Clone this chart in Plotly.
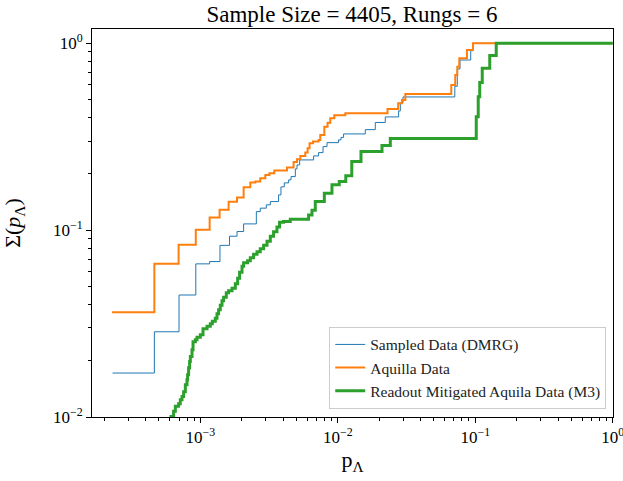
import plotly.graph_objects as go

# ---- data ----
dmrg_p = [2.30e-4, 4.63e-4, 7.00e-4, 9.27e-4, 1.169e-3, 1.390e-3, 1.631e-3, 1.849e-3,
          2.065e-3, 2.555e-3, 2.73e-3, 3.02e-3, 3.23e-3, 3.71e-3, 3.86e-3, 4.08e-3,
          4.39e-3, 4.57e-3, 4.91e-3, 5.05e-3, 5.28e-3, 6.67e-3, 7.25e-3, 7.81e-3,
          8.35e-3, 1.013e-2, 1.055e-2, 1.102e-2, 1.585e-2, 1.874e-2, 2.215e-2, 2.77e-2,
          2.85e-2, 2.98e-2, 7.10e-2, 7.40e-2, 7.74e-2, 9.27e-2, 9.62e-2, 1.0]
dmrg_sigma = [0.01719, 0.02858, 0.04497, 0.066, 0.0679, 0.0829, 0.0928, 0.0983,
              0.108, 0.1257, 0.1311, 0.1366, 0.1422, 0.1544, 0.1704, 0.179,
              0.1858, 0.1935, 0.2127, 0.2234, 0.2376, 0.2496, 0.26, 0.28,
              0.294, 0.3041, 0.3135, 0.3273, 0.345, 0.377, 0.4036, 0.4345,
              0.4795, 0.5163, 0.5888, 0.7288, 0.814, 0.913, 1.0, 1.0]

aquila_p = [2.28e-4, 4.63e-4, 6.95e-4, 9.27e-4, 1.169e-3, 1.381e-3, 1.606e-3, 1.849e-3,
            2.065e-3, 2.31e-3, 2.51e-3, 2.73e-3, 2.97e-3, 3.18e-3, 3.45e-3, 4.27e-3,
            4.77e-3, 5.05e-3, 5.34e-3, 5.80e-3, 6.03e-3, 6.23e-3, 6.60e-3, 7.25e-3,
            7.46e-3, 7.98e-3, 8.43e-3, 8.82e-3, 9.43e-3, 1.134e-2, 2.30e-2, 2.75e-2,
            2.93e-2, 3.10e-2, 6.69e-2, 7.15e-2, 7.40e-2, 7.65e-2, 8.70e-2, 9.62e-2, 1.0]
aquila_sigma = [0.0364, 0.066, 0.0835, 0.1004, 0.117, 0.1284, 0.1417, 0.1494,
                0.1698, 0.1797, 0.1819, 0.1897, 0.1976, 0.2018, 0.2083, 0.2167,
                0.2318, 0.2397, 0.2496, 0.26, 0.2745, 0.2919, 0.2977, 0.3041,
                0.3233, 0.358, 0.376, 0.397, 0.412, 0.422, 0.4453, 0.4777,
                0.4974, 0.5356, 0.5984, 0.677, 0.75, 0.8312, 0.921, 1.0, 1.0]

m3_p = [5.75e-4, 6.12e-4, 6.39e-4, 6.58e-4, 6.95e-4, 7.15e-4, 7.36e-4, 7.56e-4,
        7.78e-4, 8.00e-4, 8.08e-4, 8.22e-4, 8.36e-4, 8.46e-4, 8.70e-4, 8.85e-4,
        9.20e-4, 9.46e-4, 1.0e-3, 1.046e-3, 1.119e-3, 1.182e-3, 1.223e-3, 1.285e-3,
        1.322e-3, 1.358e-3, 1.397e-3, 1.438e-3, 1.477e-3, 1.545e-3, 1.606e-3, 1.700e-3,
        1.797e-3, 1.868e-3, 1.931e-3, 2.011e-3, 2.065e-3, 2.208e-3, 2.31e-3, 2.441e-3,
        2.585e-3, 2.73e-3, 2.886e-3, 3.055e-3, 3.23e-3, 3.41e-3, 3.61e-3, 3.77e-3,
        4.03e-3, 4.51e-3, 6.13e-3, 6.49e-3, 6.86e-3, 7.98e-3, 9.07e-3, 1.025e-2,
        1.143e-2, 1.264e-2, 1.475e-2, 2.097e-2, 2.41e-2, 0.1017, 0.1051, 0.1078,
        0.1124, 0.1275, 0.1421, 1.0]
m3_sigma = [0.009, 0.01007, 0.01072, 0.0114, 0.01178, 0.01238, 0.01289, 0.01366,
            0.01489, 0.01583, 0.01683, 0.01835, 0.01983, 0.02109, 0.02291, 0.02527,
            0.0259, 0.0267, 0.02754, 0.02966, 0.0306, 0.03155, 0.03254, 0.03376,
            0.03568, 0.03748, 0.03961, 0.04187, 0.04372, 0.0462, 0.04735, 0.04884,
            0.05162, 0.05524, 0.05946, 0.06402, 0.06684, 0.06851, 0.07109, 0.07425,
            0.07656, 0.07943, 0.0829, 0.08711, 0.09265, 0.0979, 0.1041, 0.1101,
            0.1114, 0.1145, 0.1207, 0.1276, 0.1422, 0.1577, 0.1747, 0.1819,
            0.1952, 0.2327, 0.2633, 0.2841, 0.3097, 0.405, 0.5183, 0.617,
            0.7349, 0.8603, 1.0, 1.0]

x_tickvals = [1e-3, 1e-2, 1e-1, 1.0]
x_ticktext = ["10<sup>−3</sup>", "10<sup>−2</sup>", "10<sup>−1</sup>", "10<sup>0</sup>"]
y_tickvals = [1e-2, 1e-1, 1.0]
y_ticktext = ["10<sup>−2</sup>", "10<sup>−1</sup>", "10<sup>0</sup>"]
minor_vals = [m * 10.0 ** e for e in range(-4, 1) for m in range(2, 10)]

FONT = "Liberation Serif"

fig = go.Figure()
fig.add_trace(go.Scatter(x=dmrg_p, y=dmrg_sigma, mode="lines", name="Sampled Data (DMRG)",
                         line=dict(color="#1f77b4", width=1, shape="hv")))
fig.add_trace(go.Scatter(x=aquila_p, y=aquila_sigma, mode="lines", name="Aquilla Data",
                         line=dict(color="#ff7f0e", width=2, shape="hv")))
fig.add_trace(go.Scatter(x=m3_p, y=m3_sigma, mode="lines",
                         name="Readout Mitigated Aquila Data (M3)",
                         line=dict(color="#2ca02c", width=3, shape="hv")))

axis_common = dict(showgrid=False, zeroline=False, showline=True, linecolor="black",
                   linewidth=1, mirror=True, ticks="outside", ticklen=5, tickwidth=1,
                   tickcolor="black", ticklabeloverflow="allow", automargin=False,
                   tickfont=dict(family=FONT, size=17, color="black"))

fig.update_xaxes(type="log", range=[-3.788, 0.002], tickmode="array",
                 tickvals=x_tickvals, ticktext=x_ticktext,
                 minor=dict(tickmode="array", tickvals=minor_vals, ticks="outside",
                            ticklen=3, tickcolor="black", showgrid=False),
                 title=dict(text="p<sub>Λ</sub>", font=dict(family=FONT, size=22, color="black"),
                            standoff=5),
                 **axis_common)
fig.update_yaxes(type="log", range=[-2.0, 0.0765], tickmode="array",
                 tickvals=y_tickvals, ticktext=y_ticktext,
                 minor=dict(tickmode="array", tickvals=minor_vals, ticks="outside",
                            ticklen=3, tickcolor="black", showgrid=False),
                 title=dict(text="Σ(<i>p</i><sub>Λ</sub>)",
                            font=dict(family=FONT, size=22, color="black"), standoff=30),
                 **axis_common)

fig.update_layout(
    width=623, height=481,
    margin=dict(l=92, r=10, t=29, b=64),
    paper_bgcolor="white", plot_bgcolor="white",
    title=dict(text="Sample Size = 4405, Rungs = 6", x=0.565, xanchor="center",
               y=0.972, yanchor="middle",
               font=dict(family=FONT, size=23, color="black")),
    legend=dict(x=0.987, y=0.021, xanchor="right", yanchor="bottom",
                bgcolor="rgba(255,255,255,0.8)", bordercolor="#cccccc", borderwidth=1,
                font=dict(family=FONT, size=15.5, color="#222222"),
                tracegroupgap=0, itemwidth=30),
    showlegend=True,
)

fig.write_html("out.html")
